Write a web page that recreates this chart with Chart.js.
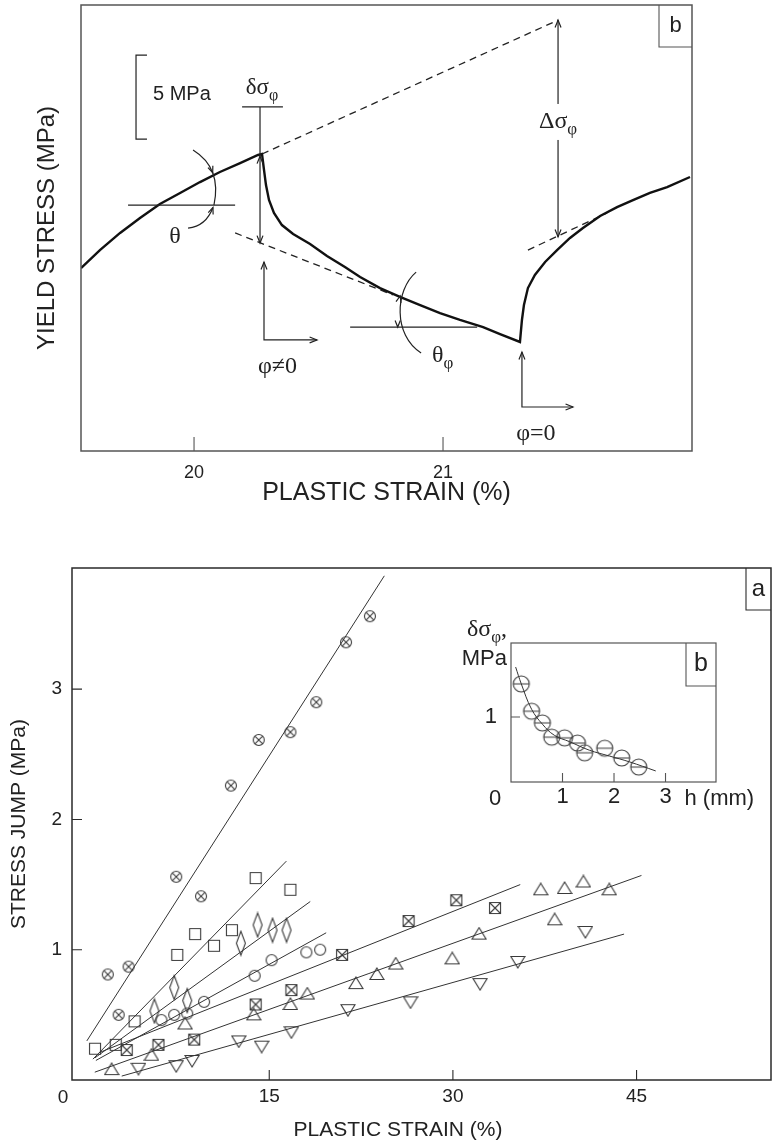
<!DOCTYPE html>
<html>
<head>
<meta charset="utf-8">
<title>Yield stress record and stress jump</title>
<script src="https://cdn.jsdelivr.net/npm/chart.js@4.4.1/dist/chart.umd.min.js"></script>
<style>
  body { margin: 0; background: #fff; }
  #wrap { position: relative; width: 777px; height: 1141px; overflow: hidden; }
  canvas { position: absolute; left: 0; }
  #topChart { top: 0; }
  #jumpChart { top: 540px; }
  #insetChart { left: 450px; top: 600px; }
</style>
</head>
<body>
<div id="wrap">
  <canvas id="topChart" width="777" height="520"></canvas>
  <canvas id="jumpChart" width="777" height="601"></canvas>
  <canvas id="insetChart" width="327" height="215"></canvas>
</div>
<script>
// ---- panel b (top): one loading record, strain %, stress MPa (origin arbitrary, see the 5 MPa bar)
const curve_strain = [19.546, 19.622, 19.703, 19.783, 19.863, 19.944, 20.024, 20.104, 20.185, 20.257, 20.273,
  20.281, 20.289, 20.301, 20.321, 20.353, 20.398, 20.466, 20.534, 20.606, 20.667, 20.747, 20.827, 20.908, 20.988, 21.068, 21.161, 21.229, 21.309,
  21.317, 21.325, 21.341, 21.369, 21.410, 21.458, 21.510, 21.562, 21.631, 21.699, 21.763, 21.831, 21.900, 21.992]
const curve_stress = [10.89, 11.96, 12.98, 13.87, 14.70, 15.36, 16.01, 16.61, 17.14, 17.62, 17.68,
  16.73, 15.83, 14.94, 14.17, 13.45, 12.92, 12.32, 11.61, 10.95, 10.36, 9.70, 9.17, 8.69, 8.21, 7.80, 7.38, 6.96, 6.49,
  7.80, 8.69, 9.70, 10.48, 11.25, 11.96, 12.68, 13.27, 13.99, 14.52, 14.94, 15.36, 15.71, 16.31]
// dashed tangents: strain0, stress0, strain1, stress1
const tangent_before = [20.273, 17.68, 21.462, 25.65]
const tangent_relax = [20.165, 12.98, 20.799, 9.29]
const tangent_after = [21.341, 11.96, 21.659, 14.17]
const top_ticks = [20, 21]

// ---- panel a: stress jump (MPa) vs plastic strain (%)
const x_cross_circle = [1.81, 2.70, 3.51, 7.40, 9.43, 11.87, 14.14, 16.73, 18.84, 21.27, 23.22]
const y_cross_circle = [0.81, 0.50, 0.87, 1.56, 1.41, 2.26, 2.61, 2.67, 2.90, 3.36, 3.56]
const fit_cross_circle = [0.10, 0.30, 24.4, 3.87]

const x_square = [0.77, 2.46, 4.00, 7.49, 8.95, 10.49, 11.95, 13.89, 16.73]
const y_square = [0.24, 0.27, 0.45, 0.96, 1.12, 1.03, 1.15, 1.55, 1.46]
const fit_square = [0.6, 0.16, 16.4, 1.68]

const x_diamond = [5.62, 7.24, 8.30, 12.68, 14.05, 15.27, 16.41]
const y_diamond = [0.53, 0.71, 0.61, 1.05, 1.19, 1.15, 1.15]
const fit_diamond = [0.76, 0.17, 18.35, 1.37]

const x_circle = [6.19, 7.24, 8.30, 9.68, 13.81, 15.19, 18.03, 19.16]
const y_circle = [0.46, 0.50, 0.51, 0.60, 0.80, 0.92, 0.98, 1.00]
const fit_circle = [0.84, 0.15, 19.65, 1.13]

const x_cross_square = [3.36, 5.95, 8.87, 13.89, 16.81, 20.95, 26.38, 30.28, 33.44]
const y_cross_square = [0.23, 0.27, 0.31, 0.58, 0.69, 0.96, 1.22, 1.38, 1.32]
const fit_cross_square = [1.1, 0.21, 35.5, 1.50]

const x_triangle = [2.13, 5.38, 8.13, 13.73, 16.73, 18.11, 22.08, 23.79, 25.33, 29.95, 32.14, 37.17, 38.31, 39.12, 40.66, 42.77]
const y_triangle = [0.08, 0.19, 0.43, 0.50, 0.58, 0.66, 0.74, 0.81, 0.89, 0.93, 1.12, 1.46, 1.23, 1.47, 1.52, 1.46]
const fit_triangle = [0.75, 0.06, 45.4, 1.57]

const x_triangle_down = [4.32, 7.40, 8.70, 12.51, 14.38, 16.81, 21.43, 26.54, 32.22, 35.30, 40.82]
const y_triangle_down = [0.09, 0.11, 0.15, 0.30, 0.26, 0.37, 0.54, 0.60, 0.74, 0.91, 1.14]
const fit_triangle_down = [2.95, 0.03, 43.98, 1.12]

const jump_x_ticks = [15, 30, 45]
const jump_y_ticks = [1, 2, 3]

// ---- inset b: stress jump vs h (mm)
const inset_h = [0.20, 0.40, 0.61, 0.79, 1.04, 1.29, 1.43, 1.82, 2.15, 2.48]
const inset_jump = [1.51, 1.09, 0.91, 0.69, 0.68, 0.60, 0.45, 0.52, 0.37, 0.23]
const inset_fit_h = [0.09, 0.20, 0.40, 0.61, 0.84, 1.14, 1.52, 1.91, 2.30, 2.81]
const inset_fit_jump = [1.77, 1.51, 1.12, 0.89, 0.72, 0.62, 0.49, 0.40, 0.31, 0.17]
const inset_x_ticks = [1, 2, 3]
const inset_y_ticks = [1]


Chart.defaults.font.family = '"Liberation Sans", Arial, sans-serif'
Chart.defaults.color = '#222'
const SANS = '"Liberation Sans", Arial, sans-serif'
const SERIF = '"Liberation Serif", "DejaVu Serif", serif'

function xy(xs, ys) { return xs.map((x, i) => ({x: x, y: ys[i]})) }
function seg(s) { return [{x: s[0], y: s[1]}, {x: s[2], y: s[3]}] }
function fixed(list) { return s => { s.ticks = list.map(v => ({value: v})) } }

function marker(kind) {
  const sizes = {crossCircle: [14, 14], square: [14, 14], diamond: [12, 27], circle: [14, 14],
    crossSquare: [14, 14], triangle: [16, 15], triangleDown: [16, 15], barCircle: [20, 20]}
  const c = document.createElement('canvas')
  c.width = sizes[kind][0]; c.height = sizes[kind][1]
  const g = c.getContext('2d')
  const cx = c.width / 2, cy = c.height / 2
  g.strokeStyle = '#3a3a3a'
  g.lineWidth = 1.1
  g.beginPath()
  if (kind == 'crossCircle' || kind == 'circle' || kind == 'barCircle') {
    let r = kind == 'barCircle' ? 8 : 5.5
    g.arc(cx, cy, r, 0, Math.PI * 2)
    if (kind == 'crossCircle') {
      let d = r * 0.707
      g.moveTo(cx - d, cy - d); g.lineTo(cx + d, cy + d)
      g.moveTo(cx + d, cy - d); g.lineTo(cx - d, cy + d)
    }
    if (kind == 'barCircle') { g.moveTo(cx - r, cy); g.lineTo(cx + r, cy) }
  } else if (kind == 'square' || kind == 'crossSquare') {
    let h = 5.5
    g.rect(cx - h, cy - h, 2 * h, 2 * h)
    if (kind == 'crossSquare') {
      g.moveTo(cx - h, cy - h); g.lineTo(cx + h, cy + h)
      g.moveTo(cx + h, cy - h); g.lineTo(cx - h, cy + h)
    }
  } else if (kind == 'diamond') {
    g.moveTo(cx, cy - 12); g.lineTo(cx + 4.5, cy); g.lineTo(cx, cy + 12); g.lineTo(cx - 4.5, cy); g.closePath()
  } else if (kind == 'triangle') {
    g.moveTo(cx, cy - 6.5); g.lineTo(cx + 7, cy + 5); g.lineTo(cx - 7, cy + 5); g.closePath()
  } else if (kind == 'triangleDown') {
    g.moveTo(cx, cy + 6.5); g.lineTo(cx + 7, cy - 5); g.lineTo(cx - 7, cy - 5); g.closePath()
  }
  g.stroke()
  return c
}

function head(ctx, tx, ty, fx, fy, size = 8) {
  const a = Math.atan2(ty - fy, tx - fx)
  ctx.beginPath()
  ctx.moveTo(tx - size * Math.cos(a - 0.38), ty - size * Math.sin(a - 0.38))
  ctx.lineTo(tx, ty)
  ctx.lineTo(tx - size * Math.cos(a + 0.38), ty - size * Math.sin(a + 0.38))
  ctx.stroke()
}

function poly(ctx, pts) {
  ctx.beginPath()
  pts.forEach((p, i) => i ? ctx.lineTo(p[0], p[1]) : ctx.moveTo(p[0], p[1]))
  ctx.stroke()
}

// greek symbol with subscript, e.g. δσ + φ
function greek(ctx, main, sub, x, y, size, align, tail) {
  const big = size + 'px ' + SERIF, small = Math.round(size * 0.7) + 'px ' + SERIF
  ctx.font = big
  const w1 = ctx.measureText(main).width
  const w3 = tail ? ctx.measureText(tail).width : 0
  ctx.font = small
  const w2 = ctx.measureText(sub).width
  const w = w1 + w2 + w3
  const x0 = align == 'center' ? x - w / 2 : align == 'right' ? x - w : x
  ctx.textAlign = 'left'
  ctx.textBaseline = 'alphabetic'
  ctx.font = big
  ctx.fillText(main, x0, y)
  if (tail) ctx.fillText(tail, x0 + w1 + w2, y)
  ctx.font = small
  ctx.fillText(sub, x0 + w1, y + size * 0.25)
}

const framePlugin = {
  id: 'frame',
  afterDraw(chart, args, o) {
    const ctx = chart.ctx, a = chart.chartArea
    const sx = chart.scales.x, sy = chart.scales.y
    ctx.save()
    ctx.strokeStyle = o.color
    ctx.lineWidth = o.width
    ctx.strokeRect(a.left, a.top, a.right - a.left, a.bottom - a.top)
    ctx.lineWidth = 1.1
    ctx.beginPath()
    sx.ticks.forEach(t => {
      const p = sx.getPixelForValue(t.value)
      ctx.moveTo(p, a.bottom); ctx.lineTo(p, a.bottom - o.tick)
    })
    if (o.yTicks) sy.ticks.forEach(t => {
      const p = sy.getPixelForValue(t.value)
      ctx.moveTo(a.left, p); ctx.lineTo(a.left + o.tick, p)
    })
    ctx.stroke()
    // panel letter in the corner box
    const bx = a.right - o.tag.w, by = a.top + o.tag.h
    ctx.beginPath(); ctx.moveTo(bx, a.top); ctx.lineTo(bx, by); ctx.lineTo(a.right, by); ctx.stroke()
    ctx.fillStyle = '#222'
    ctx.font = o.tag.size + 'px ' + SANS
    ctx.textAlign = 'center'
    ctx.textBaseline = 'middle'
    ctx.fillText(o.tag.text, bx + o.tag.w / 2, a.top + o.tag.h / 2)
    ctx.restore()
  }
}

// arrows, angles and symbols of the top panel, placed in strain/stress units
const topNotes = {
  id: 'topNotes',
  afterDatasetsDraw(chart) {
    const ctx = chart.ctx
    const X = v => chart.scales.x.getPixelForValue(v)
    const Y = v => chart.scales.y.getPixelForValue(v)
    ctx.save()
    ctx.strokeStyle = '#222'
    ctx.fillStyle = '#222'
    ctx.lineWidth = 1.2

    // 5 MPa scale bar
    poly(ctx, [[X(19.811), Y(23.57)], [X(19.767), Y(23.57)], [X(19.767), Y(18.57)], [X(19.811), Y(18.57)]])
    ctx.font = '20px ' + SANS
    ctx.textAlign = 'left'
    ctx.textBaseline = 'alphabetic'
    ctx.fillText('5 MPa', X(19.835), Y(20.89))

    // delta sigma phi at the unloading point
    poly(ctx, [[X(20.193), Y(20.48)], [X(20.357), Y(20.48)]])
    poly(ctx, [[X(20.265), Y(20.48)], [X(20.265), Y(12.38)]])
    head(ctx, X(20.265), Y(17.55), X(20.265), Y(16))
    head(ctx, X(20.265), Y(12.38), X(20.265), Y(14))
    greek(ctx, 'δσ', 'φ', X(20.273), Y(21.25), 23, 'center')

    // Delta sigma phi between the two tangents
    poly(ctx, [[X(21.462), Y(25.65)], [X(21.462), Y(12.74)]])
    head(ctx, X(21.462), Y(25.65), X(21.462), Y(24))
    head(ctx, X(21.462), Y(12.74), X(21.462), Y(14))
    ctx.fillStyle = '#fff'
    ctx.fillRect(X(21.462) - 22, Y(19.23) - 24, 44, 36)
    ctx.fillStyle = '#222'
    greek(ctx, 'Δσ', 'φ', X(21.462), Y(19.23), 24, 'center')

    // theta: slope before the change of path
    poly(ctx, [[X(19.735), Y(14.64)], [X(20.165), Y(14.64)]])
    let p0 = [X(19.996), Y(17.92)], p1 = [X(20.112), Y(16.85)], p2 = [X(20.080), Y(14.64)]
    ctx.beginPath(); ctx.moveTo(p0[0], p0[1]); ctx.quadraticCurveTo(p1[0], p1[1], p2[0], p2[1]); ctx.stroke()
    let mid = [0.25 * p0[0] + 0.5 * p1[0] + 0.25 * p2[0], 0.25 * p0[1] + 0.5 * p1[1] + 0.25 * p2[1]]
    head(ctx, mid[0], mid[1], mid[0] - (p2[0] - p0[0]) * 0.2, mid[1] - (p2[1] - p0[1]) * 0.2, 7)
    let q0 = [X(19.976), Y(13.27)], q1 = [X(20.048), Y(13.39)], q2 = [X(20.076), Y(14.50)]
    ctx.beginPath(); ctx.moveTo(q0[0], q0[1]); ctx.quadraticCurveTo(q1[0], q1[1], q2[0], q2[1]); ctx.stroke()
    head(ctx, q2[0], q2[1], q1[0], q1[1], 7)
    greek(ctx, 'θ', '', X(19.924), Y(12.38), 24, 'center')

    // theta phi: slope after the change of path
    poly(ctx, [[X(20.627), Y(7.38)], [X(21.137), Y(7.38)]])
    ctx.beginPath()
    ctx.moveTo(X(20.892), Y(10.65))
    ctx.bezierCurveTo(X(20.807), Y(9.58), X(20.799), Y(6.90), X(20.912), Y(5.83))
    ctx.stroke()
    head(ctx, X(20.828), Y(9.23), X(20.815), Y(8.5), 7)
    head(ctx, X(20.818), Y(7.38), X(20.818), Y(8.1), 7)
    greek(ctx, 'θ', 'φ', X(20.956), Y(5.30), 24, 'left')

    // path change markers
    poly(ctx, [[X(20.281), Y(11.25)], [X(20.281), Y(6.61)], [X(20.494), Y(6.61)]])
    head(ctx, X(20.281), Y(11.25), X(20.281), Y(9))
    head(ctx, X(20.494), Y(6.61), X(20.4), Y(6.61))
    ctx.font = '24px ' + SERIF
    ctx.textAlign = 'center'
    ctx.fillText('φ≠0', X(20.335), Y(4.64))

    poly(ctx, [[X(21.317), Y(5.89)], [X(21.317), Y(2.62)], [X(21.522), Y(2.62)]])
    head(ctx, X(21.317), Y(5.89), X(21.317), Y(4))
    head(ctx, X(21.522), Y(2.62), X(21.43), Y(2.62))
    ctx.font = '24px ' + SERIF
    ctx.textAlign = 'center'
    ctx.fillText('φ=0', X(21.373), Y(0.65))
    ctx.restore()
  }
}

const jumpNotes = {
  id: 'jumpNotes',
  afterDraw(chart) {
    const ctx = chart.ctx, a = chart.chartArea
    ctx.save()
    ctx.fillStyle = '#222'
    ctx.font = '19px ' + SANS
    ctx.textAlign = 'center'
    ctx.textBaseline = 'alphabetic'
    ctx.fillText('0', a.left - 9, a.bottom + 23)
    ctx.font = '21px ' + SANS
    ctx.fillText('PLASTIC STRAIN (%)', a.left + 326, a.bottom + 56)
    ctx.restore()
  }
}

const insetNotes = {
  id: 'insetNotes',
  afterDraw(chart) {
    const ctx = chart.ctx, a = chart.chartArea
    const X = v => chart.scales.x.getPixelForValue(v)
    ctx.save()
    ctx.fillStyle = '#222'
    ctx.font = '22px ' + SANS
    ctx.textBaseline = 'alphabetic'
    ctx.textAlign = 'center'
    ctx.fillText('0', a.left - 16, a.bottom + 23)
    ctx.textAlign = 'left'
    ctx.fillText('h (mm)', X(3) + 19, a.bottom + 23)
    ctx.textAlign = 'right'
    ctx.fillText('MPa', a.left - 4, a.top + 22)
    greek(ctx, 'δσ', 'φ', a.left - 4, a.top - 7, 24, 'right', ',')
    ctx.restore()
  }
}

function tangent(s) {
  return {data: seg(s), borderColor: '#222', borderWidth: 1.3, borderDash: [7, 5], pointRadius: 0, tension: 0}
}

new Chart(document.getElementById('topChart'), {
  type: 'line',
  data: {
    datasets: [
      {data: xy(curve_strain, curve_stress), borderColor: '#111', borderWidth: 2.4, pointRadius: 0, tension: 0},
      tangent(tangent_before),
      tangent(tangent_relax),
      tangent(tangent_after)
    ]
  },
  options: {
    responsive: false,
    animation: false,
    events: [],
    layout: {padding: {top: 5, right: 85, left: 0, bottom: 0}},
    plugins: {
      legend: {display: false},
      tooltip: {enabled: false},
      frame: {color: '#555', width: 1.5, tick: 14, yTicks: false, tag: {text: 'b', w: 33, h: 42, size: 22}}
    },
    scales: {
      x: {
        type: 'linear', min: 19.546, max: 22.0,
        afterBuildTicks: fixed(top_ticks),
        afterFit: s => { s.height = 69 },
        grid: {display: false, drawTicks: false},
        border: {display: false},
        ticks: {padding: 11, font: {size: 18}, maxRotation: 0, callback: v => String(v)},
        title: {display: true, text: 'PLASTIC STRAIN (%)', font: {size: 25}, padding: {top: 0, bottom: 12}}
      },
      y: {
        type: 'linear', min: 0, max: 26.55,
        afterFit: s => { s.width = 81 },
        grid: {display: false, drawTicks: false},
        border: {display: false},
        ticks: {display: false},
        title: {display: true, text: 'YIELD STRESS (MPa)', font: {size: 24}, padding: {top: 33, bottom: 0}}
      }
    }
  },
  plugins: [framePlugin, topNotes]
})

const jump_series = [
  [x_cross_circle, y_cross_circle, fit_cross_circle, 'crossCircle'],
  [x_square, y_square, fit_square, 'square'],
  [x_diamond, y_diamond, fit_diamond, 'diamond'],
  [x_circle, y_circle, fit_circle, 'circle'],
  [x_cross_square, y_cross_square, fit_cross_square, 'crossSquare'],
  [x_triangle, y_triangle, fit_triangle, 'triangle'],
  [x_triangle_down, y_triangle_down, fit_triangle_down, 'triangleDown']
]
let jump_sets = []
jump_series.forEach(s => {
  jump_sets.push({data: seg(s[2]), showLine: true, borderColor: '#333', borderWidth: 1, pointRadius: 0})
  jump_sets.push({data: xy(s[0], s[1]), showLine: false, pointStyle: marker(s[3]), pointRadius: 5})
})

new Chart(document.getElementById('jumpChart'), {
  type: 'scatter',
  data: {datasets: jump_sets},
  options: {
    responsive: false,
    animation: false,
    events: [],
    layout: {padding: {top: 28, right: 1, left: 0, bottom: 0}},
    plugins: {
      legend: {display: false},
      tooltip: {enabled: false},
      frame: {color: '#2a2a2a', width: 1.5, tick: 10, yTicks: true, tag: {text: 'a', w: 25, h: 42, size: 24}}
    },
    scales: {
      x: {
        type: 'linear', min: -1.11, max: 55.98,
        afterBuildTicks: fixed(jump_x_ticks),
        afterFit: s => { s.height = 61 },
        grid: {display: false, drawTicks: false},
        border: {display: false},
        ticks: {padding: 5, font: {size: 19}, maxRotation: 0, callback: v => String(v)}
      },
      y: {
        type: 'linear', min: 0, max: 3.93,
        afterBuildTicks: fixed(jump_y_ticks),
        afterFit: s => { s.width = 72 },
        grid: {display: false, drawTicks: false},
        border: {display: false},
        ticks: {padding: 10, font: {size: 19}, callback: v => String(v)},
        title: {display: true, text: 'STRESS JUMP (MPa)', font: {size: 21}, padding: {top: 7, bottom: 0}}
      }
    }
  },
  plugins: [framePlugin, jumpNotes]
})

new Chart(document.getElementById('insetChart'), {
  type: 'scatter',
  data: {
    datasets: [
      {data: xy(inset_fit_h, inset_fit_jump), showLine: true, borderColor: '#333', borderWidth: 1, pointRadius: 0, tension: 0.4},
      {data: xy(inset_h, inset_jump), showLine: false, pointStyle: marker('barCircle'), pointRadius: 8}
    ]
  },
  options: {
    responsive: false,
    animation: false,
    events: [],
    layout: {padding: {top: 43, right: 61, left: 0, bottom: 0}},
    plugins: {
      legend: {display: false},
      tooltip: {enabled: false},
      frame: {color: '#555', width: 1.2, tick: 9, yTicks: true, tag: {text: 'b', w: 30, h: 43, size: 25}}
    },
    scales: {
      x: {
        type: 'linear', min: 0, max: 3.98,
        afterBuildTicks: fixed(inset_x_ticks),
        afterFit: s => { s.height = 33 },
        grid: {display: false, drawTicks: false},
        border: {display: false},
        ticks: {padding: 2, font: {size: 22}, maxRotation: 0, callback: v => String(v)}
      },
      y: {
        type: 'linear', min: 0, max: 2.14,
        afterBuildTicks: fixed(inset_y_ticks),
        afterFit: s => { s.width = 61 },
        grid: {display: false, drawTicks: false},
        border: {display: false},
        ticks: {padding: 14, font: {size: 22}, callback: v => String(v)}
      }
    }
  },
  plugins: [framePlugin, insetNotes]
})
</script>
</body>
</html>
